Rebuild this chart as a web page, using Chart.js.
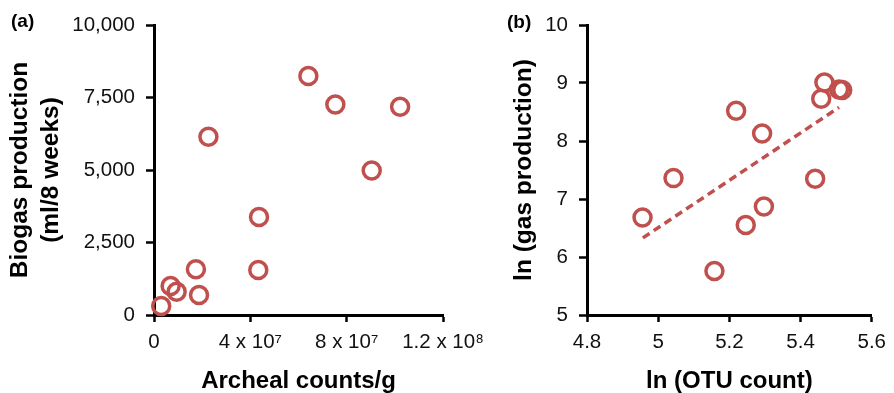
<!DOCTYPE html>
<html>
<head>
<meta charset="utf-8">
<script src="https://cdn.jsdelivr.net/npm/chart.js@4/dist/chart.umd.min.js"></script>
<style>
  body { margin: 0; background: #fff; }
  #wrap { position: relative; width: 894px; height: 393px; overflow: hidden; }
  #chartA { position: absolute; left: 0; top: 0; }
  #chartB { position: absolute; left: 450px; top: 0; }
  .panel { position: absolute; font: bold 19px "Liberation Sans", Arial, sans-serif; color: #000; }
</style>
</head>
<body>
<div id="wrap">
  <canvas id="chartA" width="500" height="393"></canvas>
  <canvas id="chartB" width="444" height="393"></canvas>
  <div class="panel" style="left:11px; top:10px;">(a)</div>
  <div class="panel" style="left:507px; top:11px;">(b)</div>
</div>
<script>
// panel (a): archaeal counts vs biogas
var archealCounts = [3e6, 6.9e6, 9.4e6, 1.74e7, 1.87e7, 2.26e7, 4.36e7, 4.33e7, 6.41e7, 7.53e7, 9.04e7, 1.022e8];
var biogasMl = [310, 1000, 800, 1580, 690, 6150, 3380, 1550, 8240, 7260, 4980, 7180];
var xTicksA = ['0', '4 x 10\u2077', '8 x 10\u2077', '1.2 x 10\u2078'];
var yTicksA = ['0', '2,500', '5,000', '7,500', '10,000'];

// panel (b): ln OTU count vs ln gas production
var lnOtu = [4.956, 5.043, 5.158, 5.219, 5.246, 5.292, 5.297, 5.441, 5.458, 5.467, 5.508, 5.517];
var lnGas = [6.68, 7.36, 5.76, 8.52, 6.55, 8.13, 6.87, 7.35, 8.73, 9.01, 8.89, 8.88];
var trendX = [4.957, 5.508];
var trendY = [6.33, 8.58];
var xTicksB = ['4.8', '5', '5.2', '5.4', '5.6'];
var yTicksB = ['5', '6', '7', '8', '9', '10'];

var red = '#c0504d';
var family = '"Liberation Sans", Arial, sans-serif';
var tickFont = { family: family, size: 20.5 };

function toPoints(xs, ys) {
    var pts = [];
    for (var i = 0; i < xs.length; i++) {
        pts.push({x: xs[i], y: ys[i]});
    }
    return pts;
}

function scatterSet(xs, ys) {
    return {
        type: 'scatter',
        data: toPoints(xs, ys),
        pointRadius: 8.5,
        pointHoverRadius: 8.5,
        pointBorderWidth: 3.5,
        pointBorderColor: red,
        pointBackgroundColor: 'rgba(255,255,255,0)',
        clip: false
    };
}

// axis with only outward tick marks and a thick black border
function axis(min, max, step, labels, title, fitSize, isX, titlePad) {
    return {
        type: 'linear',
        min: min,
        max: max,
        border: { display: true, color: '#000', width: 3 },
        grid: { display: true, drawOnChartArea: false, drawTicks: true, tickLength: isX ? 7 : 8, tickWidth: 2.5, tickColor: '#000' },
        ticks: {
            stepSize: step,
            color: '#111',
            font: tickFont,
            padding: isX ? 8 : 11,
            maxRotation: 0,
            autoSkip: false,
            callback: function (value, index) { return labels[index]; }
        },
        title: {
            display: true,
            text: title,
            color: '#000',
            font: isX ? { family: family, size: 24, weight: 'bold', lineHeight: 1 }
                      : { family: family, size: 24.5, weight: 'bold', lineHeight: 1.27 },
            padding: titlePad
        },
        afterFit: function (scale) {
            if (isX) scale.height = fitSize; else scale.width = fitSize;
        }
    };
}

function baseOptions(padRight, scales) {
    return {
        responsive: false,
        animation: false,
        layout: { padding: { left: 0, right: padRight, top: 25, bottom: 0 } },
        plugins: { legend: { display: false }, tooltip: { enabled: false } },
        scales: scales
    };
}

new Chart(document.getElementById('chartA').getContext('2d'), {
    data: { datasets: [scatterSet(archealCounts, biogasMl)] },
    options: baseOptions(57, {
        x: axis(0, 1.2e8, 4e7, xTicksA, 'Archeal counts/g', 78, true, { top: 0, bottom: 0 }),
        y: axis(0, 10000, 2500, yTicksA, ['Biogas production', '(ml/8 weeks)'], 154, false, { top: 4.5, bottom: 0 })
    })
});

new Chart(document.getElementById('chartB').getContext('2d'), {
    data: {
        datasets: [
            scatterSet(lnOtu, lnGas),
            {
                type: 'line',
                data: toPoints(trendX, trendY),
                borderColor: red,
                borderWidth: 3.5,
                borderDash: [8, 5],
                pointRadius: 0,
                fill: false
            }
        ]
    },
    options: baseOptions(16, {
        x: axis(4.8, 5.6, 0.2, xTicksB, 'ln (OTU count)', 78, true, { top: 0, bottom: 0 }),
        y: axis(5, 10, 1, yTicksB, 'ln (gas production)', 137, false, { top: 58.5, bottom: 0 })
    })
});
</script>
</body>
</html>
